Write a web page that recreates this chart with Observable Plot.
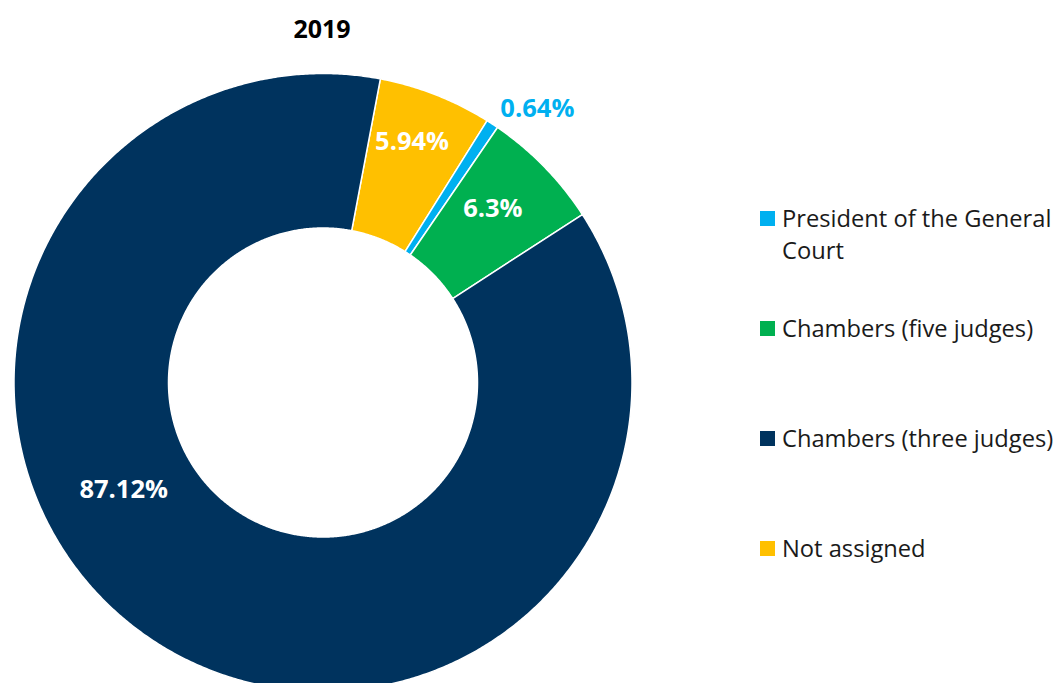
<!DOCTYPE html>
<html>
<head>
<meta charset="utf-8">
<script src="https://cdn.jsdelivr.net/npm/d3@7"></script>
<script src="https://cdn.jsdelivr.net/npm/@observablehq/plot@0.6"></script>
<style>
  body { margin: 0; background: #fff; font-family: "Open Sans", sans-serif; }
  #wrap { position: relative; width: 1057px; height: 683px; overflow: hidden; }
  #chart { position: absolute; left: 0; top: 0; }
  #title { position: absolute; left: 262px; width: 120px; top: 12px; text-align: center;
           font-weight: 700; font-size: 25px; line-height: 32px; color: #000; }
  .item { position: absolute; left: 760px; width: 320px; display: flex; align-items: flex-start; }
  .sw { width: 15px; height: 15px; margin-top: 9px; flex: none; }
  .lab { margin-left: 7px; width: 292px; font-size: 23.7px; line-height: 32px; color: #1a1a1a; }
</style>
</head>
<body>
<div id="wrap">
  <div id="title"></div>
  <div id="chart"></div>
  <div id="legend"></div>
</div>
<script>
// ---- data ----
const title = "2019";
const categories = ["Not assigned", "President of the General Court", "Chambers (five judges)", "Chambers (three judges)"];
const values = [5.94, 0.64, 6.3, 87.12];
const labels = ["5.94%", "0.64%", "6.3%", "87.12%"];
const colors = ["#FFC000", "#00B0F0", "#00B050", "#00335E"];
const legendOrder = ["President of the General Court", "Chambers (five judges)", "Chambers (three judges)", "Not assigned"];

// ---- layout ----
const startDeg = 10.7;
const cx = 322.5, cy = 382, R = 309, innerFrac = 0.5;
// label placement: fraction along slice, radius factor, fill
const labelPlace = {
  "Not assigned": {t: 0.45, r: 0.83, fill: "white"},
  "President of the General Court": {t: 2.6, r: 1.125, fill: "#00B0F0"},
  "Chambers (five judges)": {t: 0.44, r: 0.786, fill: "white"},
  "Chambers (three judges)": {t: 0.589, r: 0.732, fill: "white"}
};

const total = d3.sum(values);
const rad = Math.PI / 180;
let acc = startDeg * rad;
const pts = [];
const labelRows = [];
categories.forEach((c, i) => {
  const a0 = acc, a1 = acc + values[i] / total * 2 * Math.PI;
  acc = a1;
  const n = Math.max(4, Math.ceil((a1 - a0) / (0.4 * rad)));
  for (let k = 0; k <= n; k++) {
    const a = a0 + (a1 - a0) * k / n;
    pts.push({key: c, x: Math.sin(a), y: Math.cos(a)});
  }
  for (let k = n; k >= 0; k--) {
    const a = a0 + (a1 - a0) * k / n;
    pts.push({key: c, x: innerFrac * Math.sin(a), y: innerFrac * Math.cos(a)});
  }
  const p = labelPlace[c];
  const am = a0 + (a1 - a0) * p.t;
  labelRows.push({key: c, text: labels[i], x: p.r * Math.sin(am), y: p.r * Math.cos(am), fill: p.fill});
});

const chart = Plot.plot({
  width: 1057,
  height: 683,
  x: {domain: [-1, 1], range: [cx - R, cx + R], axis: null},
  y: {domain: [-1, 1], range: [cy + R, cy - R], axis: null},
  color: {domain: categories, range: colors},
  style: {background: "transparent"},
  marks: [
    Plot.line(pts, {x: "x", y: "y", z: "key", fill: "key", stroke: "white", strokeWidth: 1.5, curve: "linear-closed"}),
    Plot.text(labelRows, {x: "x", y: "y", text: "text", fill: d => d.fill, fontSize: 25.5, fontWeight: 700,
      fontFamily: "Open Sans", textAnchor: "middle"})
  ]
});
document.getElementById("chart").appendChild(chart);
document.getElementById("title").textContent = title;

const legend = document.getElementById("legend");
legendOrder.forEach((c, i) => {
  const it = document.createElement("div");
  it.className = "item";
  it.style.top = (202 + i * 110) + "px";
  const sw = document.createElement("div");
  sw.className = "sw";
  sw.style.background = colors[categories.indexOf(c)];
  const lab = document.createElement("div");
  lab.className = "lab";
  lab.textContent = c;
  it.appendChild(sw); it.appendChild(lab);
  legend.appendChild(it);
});
</script>
</body>
</html>
